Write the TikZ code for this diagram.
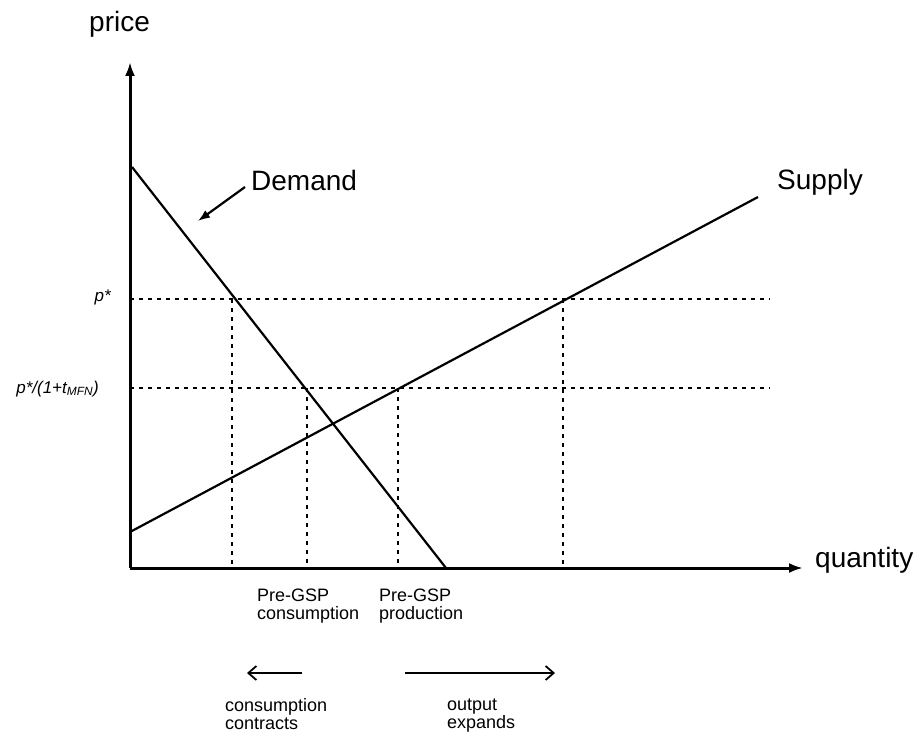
\documentclass[tikz,border=0pt]{standalone}
\usepackage{fontspec}
\setmainfont{Liberation Sans}
\usetikzlibrary{arrows.meta}
\begin{document}
\begin{tikzpicture}[x=1pt,y=-1pt,
  axisline/.style={line width=3pt,-{Latex[length=14pt,width=10pt]}},
  curve/.style={line width=2.2pt},
  guide/.style={line width=2pt,dash pattern=on 4pt off 5pt},
  bigtxt/.style={font=\fontsize{28}{32}\selectfont,inner sep=0pt,anchor=base west},
  midtxt/.style={font=\fontsize{18}{18}\selectfont,inner sep=0pt,anchor=base west},
  ptxt/.style={font=\itshape\fontsize{17}{19}\selectfont,inner sep=0pt,anchor=base east},
  shiftarrow/.style={line width=1.8pt,-{Straight Barb[length=8pt,width=14pt,line width=1.8pt]}}]
\useasboundingbox (0,0) rectangle (923,733);
% axes
\coordinate (O) at (130,568);
\coordinate (ytop) at (130,62);
\coordinate (xend) at (803,568);
\draw[axisline] (O) -- (ytop);
\draw[axisline] (O) -- (xend);
\node[bigtxt] (price) at (89,32) {price};
\node[bigtxt] (quantity) at (815,567) {quantity};
% demand and supply
\coordinate (D1) at (132,167);
\coordinate (D2) at (446,568);
\coordinate (S1) at (130,532);
\coordinate (S2) at (758,197);
\draw[curve] (D1) -- (D2);
\draw[curve] (S1) -- (S2);
\node[bigtxt] (demand) at (251,190) {Demand};
\node[bigtxt] (supply) at (777,189) {Supply};
\coordinate (darrowtail) at (245,187);
\coordinate (darrowtip) at (198,221);
\draw[line width=2.2pt,-{Latex[length=12pt,width=9pt]}] (darrowtail) -- (darrowtip);
% price levels
\coordinate (pa) at (130,299);
\coordinate (pb) at (770,299);
\coordinate (qa) at (130,388);
\coordinate (qb) at (770,388);
\draw[guide] (pa) -- (pb);
\draw[guide] (qa) -- (qb);
\node[ptxt] (pstar) at (111,301) {p*};
\node[ptxt] (ptax) at (99,393) {p*/(1+t\textsubscript{MFN})};
% vertical guides
\coordinate (v1t) at (232,299); \coordinate (v1b) at (232,568);
\coordinate (v2t) at (307,388); \coordinate (v2b) at (307,568);
\coordinate (v3t) at (398,388); \coordinate (v3b) at (398,568);
\coordinate (v4t) at (563,299); \coordinate (v4b) at (563,568);
\draw[guide] (v1t) -- (v1b);
\draw[guide] (v2t) -- (v2b);
\draw[guide] (v3t) -- (v3b);
\draw[guide] (v4t) -- (v4b);
% labels below axis
\node[midtxt] (pc1) at (257,601) {Pre-GSP};
\node[midtxt] (pc2) at (257,619) {consumption};
\node[midtxt] (pp1) at (379,601) {Pre-GSP};
\node[midtxt] (pp2) at (379,619) {production};
% shift arrows
\coordinate (la) at (302,673); \coordinate (lb) at (247,673);
\coordinate (ra) at (405,673); \coordinate (rb) at (555,673);
\draw[shiftarrow] (la) -- (lb);
\draw[shiftarrow] (ra) -- (rb);
\node[midtxt] (cc1) at (225,711) {consumption};
\node[midtxt] (cc2) at (225,729) {contracts};
\node[midtxt] (oe1) at (447,710) {output};
\node[midtxt] (oe2) at (447,728) {expands};
\end{tikzpicture}
\end{document}
